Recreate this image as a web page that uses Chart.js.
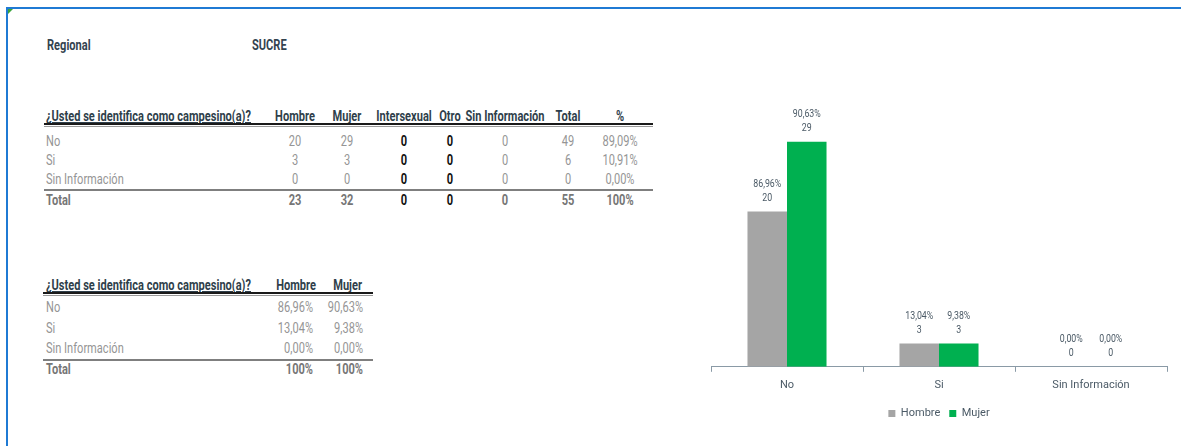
<!DOCTYPE html>
<html lang="es">
<head>
<meta charset="utf-8">
<script src="https://cdn.jsdelivr.net/npm/chart.js@4.4.1/dist/chart.umd.min.js"></script>
<style>
  html, body { margin: 0; padding: 0; background: #fff; }
  body { width: 1181px; height: 446px; position: relative; overflow: hidden;
         font-family: Roboto, "Liberation Sans", sans-serif; font-size: 14px; --sx: 0.85; }
  .frame { position: absolute; left: 6px; top: 7px; right: -4px; bottom: -4px;
           border-top: 2px solid #1f7ad4; border-left: 2px solid #1f7ad4; }
  .flag { position: absolute; left: 8px; top: 9px; width: 0; height: 0;
          border-top: 5px solid #3aa53a; border-right: 5px solid transparent; }
  .t { position: absolute; width: 0; height: 0; }
  .t span { position: absolute; top: 0; white-space: nowrap; line-height: 1; }
  .t.l span { left: 0; transform-origin: left center; transform: translateY(-50%) scaleX(var(--sx)); }
  .t.c span { left: 0; transform-origin: center center; transform: translate(-50%, -50%) scaleX(var(--sx)); }
  .t.r span { left: 0; transform-origin: right center; transform: translate(-100%, -50%) scaleX(var(--sx)); }
  .hd  { font-weight: bold; color: #2f3f4b; }
  .reg { font-weight: bold; color: #33434f; }
  .val { color: #959595; }
  .blk { color: #111; font-weight: bold; }
  .tot { color: #767676; font-weight: bold; }
  .u   { text-decoration: underline; }
  .ln  { position: absolute; }
  #wrap { position: absolute; left: 700px; top: 90px; width: 481px; height: 343px; }
</style>
</head>
<body>
<div class="frame"></div>
<div class="flag"></div>
<div id="texts"></div>
<div id="wrap"><canvas id="chart"></canvas></div>

<script>
// ─── DATOS ────────────────────────────────────────────────────────────────────
const pregunta     = '¿Usted se identifica como campesino(a)?';
const regional     = 'SUCRE';
const categorias   = ['No', 'Si', 'Sin Información'];
const columnas     = ['Hombre', 'Mujer', 'Intersexual', 'Otro', 'Sin Información', 'Total', '%'];
const hombre       = [20, 3, 0];
const mujer        = [29, 3, 0];
const intersexual  = [0, 0, 0];
const otro         = [0, 0, 0];
const sinInfo      = [0, 0, 0];
const totalFila    = [49, 6, 0];
const pctFila      = ['89,09%', '10,91%', '0,00%'];
const totales      = [23, 32, 0, 0, 0, 55, '100%'];
const pctHombre    = ['86,96%', '13,04%', '0,00%'];
const pctMujer     = ['90,63%', '9,38%', '0,00%'];
const pctTotales   = ['100%', '100%'];

// ─── TEXTO DE LAS TABLAS ──────────────────────────────────────────────────────
const box = document.getElementById('texts');
function put(txt, x, y, align, cls) {
  const d = document.createElement('div');
  d.className = 't ' + align;
  d.style.left = x + 'px'; d.style.top = y + 'px';
  d.innerHTML = `<span class="${cls}">${txt}</span>`;
  box.appendChild(d);
  return d.firstChild;
}
function line(x1, x2, y, h, color) {
  const d = document.createElement('div');
  d.className = 'ln';
  Object.assign(d.style, { left: x1 + 'px', top: y + 'px', width: (x2 - x1) + 'px', height: h + 'px', background: color });
  box.appendChild(d);
}

// ajustar la compresión horizontal al ancho del encabezado
const probe = put(pregunta, 0, -100, 'l', 'hd');
probe.style.transform = 'none';
document.body.style.setProperty('--sx', (205 / probe.getBoundingClientRect().width).toFixed(3));
probe.parentNode.remove();

put('Regional', 47, 45, 'l', 'reg');
put(regional, 252, 45, 'l', 'reg');

// tabla 1: conteos
const cx1  = [294.5, 347, 404, 449.5, 505, 568, 620];
const rows1 = [140.5, 159.5, 179];
put(pregunta, 46, 116, 'l', 'hd u');
columnas.forEach((c, j) => put(c, cx1[j], 116, 'c', 'hd'));
line(44, 653, 122.5, 2, '#1a1a1a');
line(44, 653, 126, 1, '#9a9a9a');
categorias.forEach((c, i) => {
  const y = rows1[i];
  put(c, 46, y, 'l', 'val');
  [hombre, mujer, intersexual, otro, sinInfo, totalFila, pctFila].forEach((arr, j) =>
    put(arr[i], cx1[j], y, 'c', (j === 2 || j === 3) ? 'blk' : 'val'));
});
line(44, 653, 188.5, 2, '#7f7f7f');
put('Total', 46, 199.5, 'l', 'tot');
totales.forEach((v, j) => put(v, cx1[j], 199.5, 'c', (j === 2 || j === 3) ? 'blk' : 'tot'));

// tabla 2: porcentajes
const rx2   = [313, 363];
const rows2 = [307, 328, 348];
put(pregunta, 46, 285, 'l', 'hd u');
put(columnas[0], 316, 285, 'r', 'hd');
put(columnas[1], 362, 285, 'r', 'hd');
line(43, 373, 291.5, 2, '#1a1a1a');
line(43, 373, 295, 1, '#9a9a9a');
categorias.forEach((c, i) => {
  put(c, 46, rows2[i], 'l', 'val');
  put(pctHombre[i], rx2[0], rows2[i], 'r', 'val');
  put(pctMujer[i],  rx2[1], rows2[i], 'r', 'val');
});
line(43, 373, 358.5, 2, '#7f7f7f');
put('Total', 46, 368.5, 'l', 'tot');
put(pctTotales[0], rx2[0], 368.5, 'r', 'tot');
put(pctTotales[1], rx2[1], 368.5, 'r', 'tot');

// ─── GRÁFICO ──────────────────────────────────────────────────────────────────
const FONT = "Roboto, 'Liberation Sans', sans-serif";
Chart.defaults.font.family = FONT;
Chart.defaults.font.size   = 11;
Chart.defaults.color       = '#4b5a66';

const etiquetas = {
  id: 'etiquetas',
  afterDatasetsDraw(chart) {
    const { ctx } = chart;
    const pcts = [pctHombre, pctMujer];
    ctx.save();
    ctx.font = `10px ${FONT}`;
    ctx.fillStyle = '#4b5a66';
    ctx.textAlign = 'center';
    ctx.textBaseline = 'middle';
    chart.data.datasets.forEach((ds, di) => {
      chart.getDatasetMeta(di).data.forEach((bar, i) => {
        ctx.save();
        ctx.translate(bar.x, bar.y);
        ctx.scale(0.88, 1);
        ctx.fillText(ds.data[i], 0, -13);
        ctx.fillText(pcts[di][i], 0, -27);
        ctx.restore();
      });
    });
    ctx.restore();
  },
};

new Chart(document.getElementById('chart'), {
  type: 'bar',
  data: {
    labels: categorias,
    datasets: [
      { label: 'Hombre', data: hombre, backgroundColor: '#a5a5a5' },
      { label: 'Mujer',  data: mujer,  backgroundColor: '#00b050' },
    ],
  },
  options: {
    responsive: true, maintainAspectRatio: false, animation: false,
    categoryPercentage: 0.52, barPercentage: 1,
    layout: { padding: { left: 11, right: 14, top: 13, bottom: 4 } },
    plugins: {
      legend: { position: 'bottom', labels: { boxWidth: 7, boxHeight: 7, padding: 9, font: { size: 11 } } },
      tooltip: { enabled: false },
    },
    scales: {
      x: {
        grid: { offset: true, drawOnChartArea: false, drawTicks: true, tickLength: 5, color: '#8a9aa6' },
        border: { color: '#8a9aa6' },
        ticks: { padding: 7, font: { size: 11 } },
      },
      y: { display: false, min: 0, max: 34 },
    },
  },
  plugins: [etiquetas],
});
</script>
</body>
</html>
